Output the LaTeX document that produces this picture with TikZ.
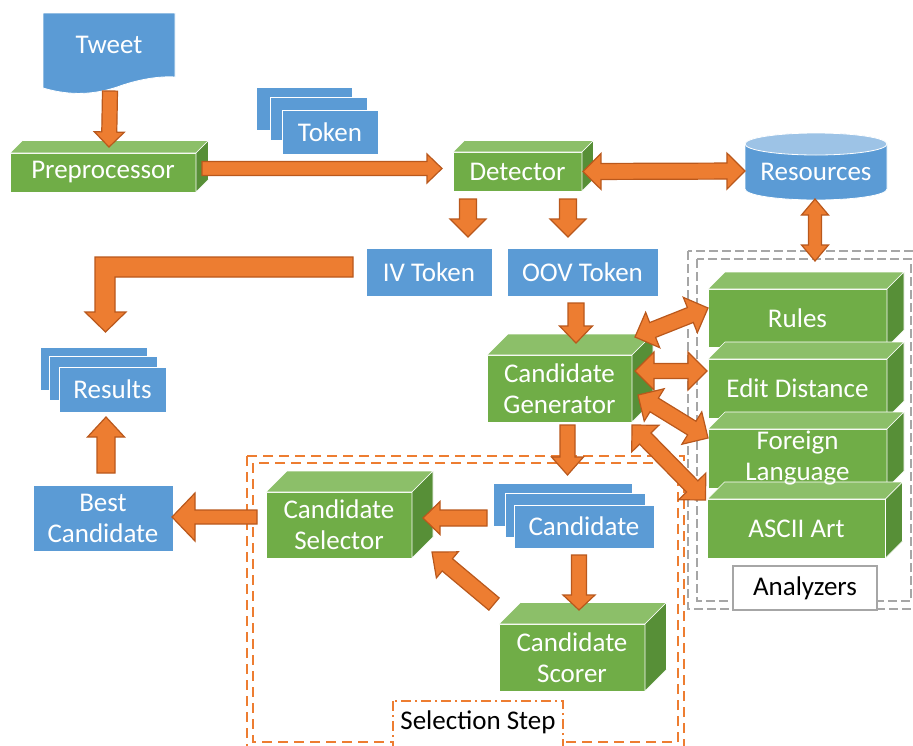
\documentclass[tikz,border=0pt]{standalone}
\usepackage{fontspec}
\setmainfont{Carlito}
\usetikzlibrary{calc,shadows}

\definecolor{boxblue}{HTML}{5B9BD5}
\definecolor{boxbluetop}{HTML}{9DC3E6}
\definecolor{greenfront}{HTML}{70AD47}
\definecolor{greentop}{HTML}{8CBF69}
\definecolor{greenside}{HTML}{578F37}
\definecolor{arrowbody}{HTML}{ED7D31}
\definecolor{arrowedge}{HTML}{B9581C}
\definecolor{groupgray}{HTML}{A6A6A6}

\tikzset{
  lbl/.style={font=\fontsize{27}{31}\selectfont, text=white, align=center,
    inner sep=0pt, outer sep=0pt},
  bluebox/.style={lbl, rectangle, fill=boxblue, draw=white, line width=0.8pt,
    drop shadow={shadow xshift=1.2pt, shadow yshift=-1.2pt, opacity=0.22, fill=black}},
  front/.style={lbl, rectangle, fill=greenfront, draw=white, line width=0.8pt},
  cubetop/.style={fill=greentop, draw=white, line width=0.6pt, line join=round},
  cubeside/.style={fill=greenside, draw=white, line width=0.6pt, line join=round},
  barrow/.style={fill=arrowbody, draw=arrowedge, line width=1.2pt, line join=miter},
  selgroup/.style={draw=arrowbody, line width=1.8pt, dash pattern=on 10pt off 6pt},
  seltag/.style={draw=arrowbody, fill=white, line width=1.8pt,
    dash pattern=on 10pt off 4pt on 2pt off 4pt},
  angroup/.style={draw=groupgray, line width=1.8pt, dash pattern=on 9pt off 4pt},
  grouplbl/.style={font=\fontsize{27}{31}\selectfont, text=black, inner sep=0pt},
}

% front face as a named node, plus top and right faces
\newcommand\cubenode[6]{%
  \node[front, minimum width=#4pt, minimum height=#5pt] (#1) at (#2,#3) {};
  \filldraw[cubetop] (#1.north west) -- ++(#6,-#6)
    -- ([shift={(#6,-#6)}]#1.north east) -- (#1.north east) -- cycle;
  \filldraw[cubeside] (#1.north east) -- ++(#6,-#6)
    -- ([shift={(#6,-#6)}]#1.south east) -- (#1.south east) -- cycle;
}
% caption on a front face, set after all faces are drawn
\newcommand\cubelabel[2]{\node[lbl] (#1-label) at (#1.center) {#2};}

% block arrow: tail, tip, half shaft width, half head width, head length
\newcommand\blockarrow[5]{%
  \path (#1) coordinate (bat) (#2) coordinate (bah);
  \path ($(bah)!#5!(bat)$) coordinate (bab);
  \draw[barrow] ($(bat)!#3!90:(bah)$) -- ($(bab)!#3!-90:(bat)$)
    -- ($(bab)!#4!-90:(bat)$) -- (bah) -- ($(bab)!#4!90:(bat)$)
    -- ($(bab)!#3!90:(bat)$) -- ($(bat)!#3!-90:(bah)$) -- cycle;
}

% block arrow with a head at both ends
\newcommand\dblarrow[5]{%
  \path (#1) coordinate (bat) (#2) coordinate (bah);
  \path ($(bat)!#5!(bah)$) coordinate (baa) ($(bah)!#5!(bat)$) coordinate (bab);
  \draw[barrow] (bat) -- ($(baa)!#4!90:(bah)$) -- ($(baa)!#3!90:(bah)$)
    -- ($(bab)!#3!-90:(bat)$) -- ($(bab)!#4!-90:(bat)$) -- (bah)
    -- ($(bab)!#4!90:(bat)$) -- ($(bab)!#3!90:(bat)$)
    -- ($(baa)!#3!-90:(bah)$) -- ($(baa)!#4!-90:(bah)$) -- cycle;
}

\begin{document}
\begin{tikzpicture}[x=1pt, y=-1pt]
\path[use as bounding box] (0,0) rectangle (913,745);
\clip (0,0) rectangle (913,745);

% group frames
\draw[selgroup] (247,456) rectangle (684,760);
\draw[selgroup] (253,463) rectangle (678,742);
\draw[seltag] (393,701) rectangle (563,770);
\node[grouplbl] (selstep) at (478,722) {Selection Step};

\draw[angroup] (688,251) rectangle (930,609);
\draw[angroup] (697,259) rectangle (911,601);
\node[grouplbl, rectangle, fill=white, draw=groupgray, line width=1.5pt,
  minimum width=144pt, minimum height=44pt] (anlz) at (805,588) {Analyzers};

% tweet document
\fill[boxblue, draw=white, line width=0.8pt] (43,13) -- (175,13) -- (175,77)
  .. controls (160,76) and (140,79) .. (120,86)
  .. controls (95,95) and (70,96) .. (43,88) -- cycle;
\node[lbl, minimum width=132pt, minimum height=64pt] (tweet) at (109,45) {Tweet};

% token stack
\node[bluebox, minimum width=96pt, minimum height=43pt] (tokb) at (304,108.5) {};
\node[bluebox, minimum width=97pt, minimum height=43pt] (tokm) at (318.5,118.5) {};
\node[bluebox, minimum width=96pt, minimum height=44pt] (tok) at (330,132) {Token};

% resources cylinder
\fill[boxblue, draw=white, line width=0.8pt] (745,144) -- (745,189)
  arc[start angle=180, end angle=0, x radius=71, y radius=11] -- (887,144)
  arc[start angle=0, end angle=-180, x radius=71, y radius=11] -- cycle;
\fill[boxbluetop, draw=white, line width=0.8pt] (816,144) ellipse [x radius=71, y radius=11];
\node[lbl, minimum width=142pt, minimum height=56pt] (res) at (816,172) {Resources};

% tokens after detection
\node[bluebox, minimum width=126pt, minimum height=48pt] (iv) at (429,272) {IV Token};
\node[bluebox, minimum width=151pt, minimum height=48pt] (oov) at (582.5,272) {OOV Token};

% results stack
\node[bluebox, minimum width=107pt, minimum height=43pt] (resb) at (93.5,368.5) {};
\node[bluebox, minimum width=108pt, minimum height=44pt] (resm) at (103,378) {};
\node[bluebox, minimum width=107pt, minimum height=45pt] (results) at (112.5,389.5) {Results};

\node[bluebox, minimum width=140pt, minimum height=66pt] (best) at (103,518) {Best\\Candidate};

% candidate stack
\node[bluebox, minimum width=139pt, minimum height=43pt] (candb) at (562.5,504.5) {};
\node[bluebox, minimum width=140pt, minimum height=44pt] (candm) at (575,515) {};
\node[bluebox, minimum width=140pt, minimum height=43pt] (cand) at (584,526.5) {Candidate};

% processing units
\cubenode{pre}{103}{172.5}{186}{39}{12.5}
\cubenode{det}{517.5}{171.5}{129}{39}{11.5}
\cubenode{gen}{559.5}{388.5}{145}{67}{21}
\cubenode{sel}{339}{525}{146}{66}{21}
\cubenode{scr}{572}{657.5}{146}{67}{21.5}

% analyzers, stacked front to back from the bottom
\cubenode{rules}{797.5}{318}{179}{58}{17}
\cubenode{edit}{797.5}{388.5}{179}{59}{17}
\cubenode{foreign}{797.5}{458.5}{179}{59}{17}
\cubenode{ascii}{796.5}{528.5}{178}{59}{17}

\cubelabel{pre}{Preprocessor}
\cubelabel{det}{Detector}
\cubelabel{gen}{Candidate\\Generator}
\cubelabel{sel}{Candidate\\Selector}
\cubelabel{scr}{Candidate\\Scorer}
\cubelabel{rules}{Rules}
\cubelabel{edit}{Edit Distance}
\cubelabel{foreign}{Foreign\\Language}
\cubelabel{ascii}{ASCII Art}

% flow arrows
\blockarrow{$(tweet.south)+(1,14)$}{$(pre.north)+(6,-6)$}{7.5pt}{15pt}{15pt}
\blockarrow{$(pre.east)+(6,-4)$}{$(det.west)+(-11,-3)$}{7pt}{14.5pt}{15pt}
\dblarrow{$(det.east)+(1,0)$}{$(res.west)+(0,-1)$}{8pt}{18pt}{18pt}
\dblarrow{$(res.south)+(-1,-1)$}{$(rules.north)+(17.5,-28)$}{6.5pt}{13.5pt}{16pt}
\blockarrow{$(det.south)+(-49.5,8)$}{$(iv.north)+(39,-11)$}{8.5pt}{18pt}{18pt}
\blockarrow{$(det.south)+(50.5,8)$}{$(oov.north)+(-14.5,-11)$}{8.5pt}{18pt}{18pt}

% in-vocabulary tokens go straight to the results
\draw[barrow] ($(iv.west)+(-13,-15)$) -- ++(-258,0) -- ++(0,55) -- ++(-10,0)
  -- ++(20.5,20) -- ++(20.5,-20) -- ++(-11,0) -- ++(0,-35) -- ++(238,0) -- cycle;

\blockarrow{$(best.north)+(3,-12)$}{$(results.south)+(-6.5,5)$}{9pt}{18.5pt}{20pt}
\blockarrow{$(sel.west)+(-9,-8)$}{$(best.east)+(-1,-1)$}{7pt}{24pt}{23pt}
\blockarrow{$(cand.west)+(-27,-8.5)$}{$(sel.east)+(11,-7)$}{8pt}{16.5pt}{17pt}
\blockarrow{$(cand.south)+(-5,7)$}{$(scr.north)+(7,-14)$}{7.5pt}{16pt}{15pt}
\blockarrow{$(scr.north west)+(-5,-20)$}{$(sel.south east)+(20,-6)$}{8pt}{17pt}{20pt}
\blockarrow{$(oov.south)+(-6.5,7)$}{$(gen.north)+(16.5,-12)$}{8pt}{16.5pt}{17pt}
\blockarrow{$(gen.south)+(8,3)$}{$(candb.north)+(5,-8)$}{7.5pt}{16pt}{18pt}

% generator <-> analyzers
\dblarrow{$(gen.north east)+(3,-18)$}{$(rules.west)+(0,-10)$}{8pt}{19pt}{19pt}
\dblarrow{$(gen.east)+(3,-17.5)$}{$(edit.west)+(-1,-17.5)$}{7.5pt}{19pt}{19pt}
\dblarrow{$(gen.east)+(6,6.5)$}{$(foreign.west)+(0,-20.5)$}{8pt}{19pt}{19pt}
\dblarrow{$(gen.south east)+(0,3)$}{$(ascii.west)+(-2,-28.5)$}{8pt}{19pt}{19pt}
\end{tikzpicture}
\end{document}
